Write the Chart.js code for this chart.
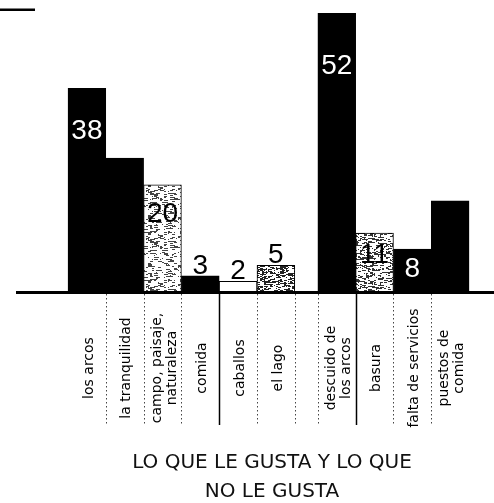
<!DOCTYPE html>
<html>
<head>
<meta charset="utf-8">
<script src="https://cdn.jsdelivr.net/npm/chart.js@4/dist/chart.umd.min.js"></script>
<style>
  html, body { margin: 0; padding: 0; background: #fff; }
  #wrap { width: 494px; height: 503px; position: relative; }
</style>
</head>
<body>
<div id="wrap"><canvas id="c" width="494" height="503"></canvas></div>
<script>
// ---- data ----
const categories = [
  ["los arcos"],
  ["la tranquilidad"],
  ["campo, paisaje,", "naturaleza"],
  ["comida"],
  ["caballos"],
  ["el lago"],
  ["descuido de", "los arcos"],
  ["basura"],
  ["falta de servicios"],
  ["puestos de", "comida"]
];
const values = [38, 25, 20, 3, 2, 5, 52, 11, 8, 17];
const valueLabels = ["38", "", "20", "3", "2", "5", "52", "11", "8", ""];
const titleLines = ["LO QUE LE GUSTA Y LO QUE", "NO LE GUSTA"];

// ---- styling ----
const NUM_FONT = "'Liberation Sans', 'DejaVu Sans', sans-serif";
const TXT_FONT = "'DejaVu Sans', 'Liberation Sans', sans-serif";
const GROUP_GAP = 0.61;           // extra gap (in bar widths) between the two groups
const FIRST_OF_SECOND_GROUP = 6;
const xPos = i => i + (i >= FIRST_OF_SECOND_GROUP ? GROUP_GAP : 0);

function hash(x, y, s) {
  const v = Math.sin(x * 12.9898 + y * 78.233 + s * 37.719) * 43758.5453;
  return v - Math.floor(v);
}
function texture(darkness, seed, tone) {
  const c = document.createElement('canvas');
  c.width = 48; c.height = 48;
  const g = c.getContext('2d');
  g.fillStyle = '#fff';
  g.fillRect(0, 0, 48, 48);
  g.fillStyle = tone;
  for (let y = 0; y < 48; y += 1) {
    for (let x = 0; x < 48; x += 2) {
      if (hash(x, y, seed) < darkness) {
        const len = 1 + Math.floor(hash(y, x, seed + 1) * 4);
        g.fillRect(x, y, len, 1);
      }
    }
  }
  return g.createPattern(c, 'repeat');
}
const P_LIGHT = texture(0.2, 1, '#444');
const P_MID = texture(0.34, 2, '#333');
const P_DARK = texture(0.42, 3, '#222');
const barFills = ['#000', '#000', P_LIGHT, '#000', '#fff', P_DARK, '#000', P_MID, '#000', '#000'];
const labelColors = ['#fff', '#fff', '#000', '#000', '#000', '#000', '#fff', '#000', '#fff', '#fff'];

const decorPlugin = {
  id: 'decor',
  afterDatasetsDraw(chart) {
    const ctx = chart.ctx;
    const xs = chart.scales.x;
    const area = chart.chartArea;
    const meta = chart.getDatasetMeta(0);
    ctx.save();
    // baseline
    ctx.fillStyle = '#000';
    ctx.fillRect(area.left, area.bottom - 1, area.right - area.left, 3);
    // remnant line top-left
    ctx.fillRect(0, 8.5, 35, 2.5);

    // value labels
    ctx.font = '28px ' + NUM_FONT;
    ctx.textAlign = 'center';
    meta.data.forEach((bar, i) => {
      const t = valueLabels[i];
      if (!t) return;
      const h = bar.base - bar.y;
      ctx.fillStyle = labelColors[i];
      if (values[i] >= 8) {
        ctx.textBaseline = 'middle';
        ctx.fillText(t, bar.x, bar.y + 14 + 0.14 * h);
      } else {
        ctx.textBaseline = 'alphabetic';
        ctx.fillText(t, bar.x, bar.y - 2);
      }
    });

    // separators below the axis
    const edges = [];
    for (let i = 0; i < values.length; i++) {
      if (i === FIRST_OF_SECOND_GROUP) edges.push({v: xPos(i) - 0.5, solid: false});
      if (i < values.length - 1) edges.push({v: xPos(i) + 0.5, solid: (i === 3 || i === 6)});
    }
    edges.forEach(e => {
      const px = Math.round(xs.getPixelForValue(e.v)) + 0.5;
      ctx.beginPath();
      ctx.strokeStyle = e.solid ? '#000' : '#444';
      ctx.lineWidth = e.solid ? 1.5 : 1;
      ctx.setLineDash(e.solid ? [] : [1.5, 2.5]);
      ctx.moveTo(px, area.bottom + 2);
      ctx.lineTo(px, 425);
      ctx.stroke();
    });
    ctx.setLineDash([]);

    // category labels (rotated, reading bottom to top)
    ctx.fillStyle = '#000';
    ctx.font = '14px ' + TXT_FONT;
    ctx.textAlign = 'center';
    ctx.textBaseline = 'middle';
    categories.forEach((lines, i) => {
      const cx = xs.getPixelForValue(xPos(i)) + 2;
      lines.forEach((ln, k) => {
        const lx = cx + (k - (lines.length - 1) / 2) * 15;
        ctx.save();
        ctx.translate(lx, 368);
        ctx.rotate(-Math.PI / 2);
        ctx.fillText(ln, 0, 0);
        ctx.restore();
      });
    });

    // title at bottom
    ctx.font = '20px ' + TXT_FONT;
    ctx.fillStyle = '#111';
    ctx.textAlign = 'center';
    ctx.textBaseline = 'middle';
    ctx.fillText(titleLines[0], 272, 463);
    ctx.fillText(titleLines[1], 272, 492);
    ctx.restore();
  }
};

new Chart(document.getElementById('c'), {
  type: 'bar',
  data: {
    datasets: [{
      data: values.map((v, i) => ({x: xPos(i), y: v})),
      backgroundColor: barFills,
      borderColor: '#000',
      borderWidth: 1,
      borderSkipped: 'bottom',
      barPercentage: 1,
      categoryPercentage: 1
    }]
  },
  options: {
    responsive: false,
    animation: false,
    devicePixelRatio: 1,
    layout: { padding: { left: 16, right: 0, top: 0, bottom: 211 } },
    plugins: { legend: { display: false }, tooltip: { enabled: false }, title: { display: false } },
    scales: {
      x: {
        type: 'linear',
        display: false,
        offset: false,
        min: -1.876,
        max: 10.77,
        afterBuildTicks: s => { s.ticks = []; }
      },
      y: {
        display: false,
        min: 0,
        max: 54.5
      }
    }
  },
  plugins: [decorPlugin]
});
</script>
</body>
</html>
